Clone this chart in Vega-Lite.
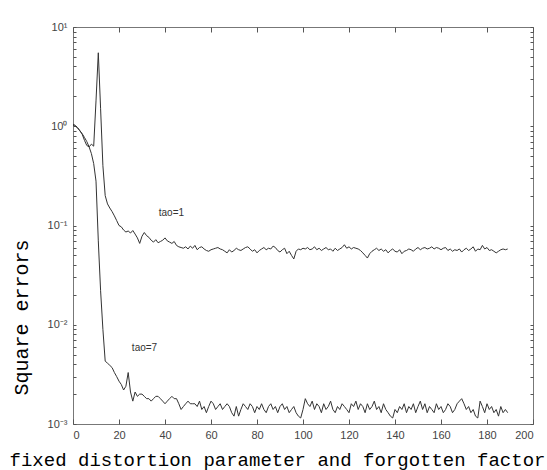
{
"$schema":"https://vega.github.io/schema/vega-lite/v6.json",
"width":460,"height":397,
"autosize":{"type":"none"},
"padding":{"left":73,"top":27,"right":14,"bottom":46},
"background":"white",
"config":{"view":{"stroke":"#777","strokeWidth":1},"axis":{"domain":false,"tickColor":"#555","labelColor":"#444","labelFont":"Liberation Sans","labelFontSize":11,"grid":false,"labelOverlap":false,"titleFont":"Liberation Mono","titleFontWeight":"normal","titleColor":"#000"}},
"resolve":{"axis":{"x":"independent","y":"independent"}},
"layer":[
{"data":{"values":[
{"x":0,"v":1.05,"s":"tao=1"},{"x":1,"v":1.02,"s":"tao=1"},{"x":2,"v":0.97,"s":"tao=1"},{"x":3,"v":0.9,"s":"tao=1"},{"x":4,"v":0.83,"s":"tao=1"},{"x":5,"v":0.72,"s":"tao=1"},{"x":6,"v":0.64,"s":"tao=1"},{"x":7,"v":0.62,"s":"tao=1"},{"x":8,"v":0.66,"s":"tao=1"},{"x":9,"v":0.63,"s":"tao=1"},
{"x":10,"v":1.8,"s":"tao=1"},{"x":11,"v":5.5,"s":"tao=1"},{"x":12,"v":1.5,"s":"tao=1"},{"x":13,"v":0.4,"s":"tao=1"},{"x":14,"v":0.2,"s":"tao=1"},{"x":15,"v":0.165,"s":"tao=1"},{"x":16,"v":0.15,"s":"tao=1"},{"x":17,"v":0.138,"s":"tao=1"},{"x":18,"v":0.125,"s":"tao=1"},{"x":19,"v":0.112,"s":"tao=1"},
{"x":20,"v":0.1,"s":"tao=1"},{"x":21,"v":0.097,"s":"tao=1"},{"x":22,"v":0.09,"s":"tao=1"},{"x":23,"v":0.086,"s":"tao=1"},{"x":24,"v":0.088,"s":"tao=1"},{"x":25,"v":0.084,"s":"tao=1"},{"x":26,"v":0.089,"s":"tao=1"},{"x":27,"v":0.082,"s":"tao=1"},{"x":28,"v":0.075,"s":"tao=1"},{"x":29,"v":0.066,"s":"tao=1"},
{"x":30,"v":0.078,"s":"tao=1"},{"x":31,"v":0.085,"s":"tao=1"},{"x":32,"v":0.079,"s":"tao=1"},{"x":33,"v":0.076,"s":"tao=1"},{"x":34,"v":0.071,"s":"tao=1"},{"x":35,"v":0.068,"s":"tao=1"},{"x":36,"v":0.072,"s":"tao=1"},{"x":37,"v":0.067,"s":"tao=1"},{"x":38,"v":0.069,"s":"tao=1"},{"x":39,"v":0.071,"s":"tao=1"},
{"x":40,"v":0.075,"s":"tao=1"},{"x":41,"v":0.07,"s":"tao=1"},{"x":42,"v":0.068,"s":"tao=1"},{"x":43,"v":0.066,"s":"tao=1"},{"x":44,"v":0.069,"s":"tao=1"},{"x":45,"v":0.063,"s":"tao=1"},{"x":46,"v":0.061,"s":"tao=1"},{"x":47,"v":0.06,"s":"tao=1"},{"x":48,"v":0.059,"s":"tao=1"},{"x":49,"v":0.061,"s":"tao=1"},
{"x":50,"v":0.058,"s":"tao=1"},{"x":51,"v":0.062,"s":"tao=1"},{"x":52,"v":0.059,"s":"tao=1"},{"x":53,"v":0.063,"s":"tao=1"},{"x":54,"v":0.057,"s":"tao=1"},{"x":55,"v":0.06,"s":"tao=1"},{"x":56,"v":0.061,"s":"tao=1"},{"x":57,"v":0.058,"s":"tao=1"},{"x":58,"v":0.056,"s":"tao=1"},{"x":59,"v":0.055,"s":"tao=1"},
{"x":60,"v":0.057,"s":"tao=1"},{"x":61,"v":0.058,"s":"tao=1"},{"x":62,"v":0.059,"s":"tao=1"},{"x":63,"v":0.06,"s":"tao=1"},{"x":64,"v":0.058,"s":"tao=1"},{"x":65,"v":0.057,"s":"tao=1"},{"x":66,"v":0.055,"s":"tao=1"},{"x":67,"v":0.053,"s":"tao=1"},{"x":68,"v":0.057,"s":"tao=1"},{"x":69,"v":0.054,"s":"tao=1"},
{"x":70,"v":0.056,"s":"tao=1"},{"x":71,"v":0.059,"s":"tao=1"},{"x":72,"v":0.057,"s":"tao=1"},{"x":73,"v":0.056,"s":"tao=1"},{"x":74,"v":0.058,"s":"tao=1"},{"x":75,"v":0.06,"s":"tao=1"},{"x":76,"v":0.061,"s":"tao=1"},{"x":77,"v":0.058,"s":"tao=1"},{"x":78,"v":0.055,"s":"tao=1"},{"x":79,"v":0.057,"s":"tao=1"},
{"x":80,"v":0.053,"s":"tao=1"},{"x":81,"v":0.056,"s":"tao=1"},{"x":82,"v":0.058,"s":"tao=1"},{"x":83,"v":0.06,"s":"tao=1"},{"x":84,"v":0.057,"s":"tao=1"},{"x":85,"v":0.059,"s":"tao=1"},{"x":86,"v":0.058,"s":"tao=1"},{"x":87,"v":0.062,"s":"tao=1"},{"x":88,"v":0.06,"s":"tao=1"},{"x":89,"v":0.056,"s":"tao=1"},
{"x":90,"v":0.054,"s":"tao=1"},{"x":91,"v":0.057,"s":"tao=1"},{"x":92,"v":0.059,"s":"tao=1"},{"x":93,"v":0.052,"s":"tao=1"},{"x":94,"v":0.055,"s":"tao=1"},{"x":95,"v":0.05,"s":"tao=1"},{"x":96,"v":0.046,"s":"tao=1"},{"x":97,"v":0.055,"s":"tao=1"},{"x":98,"v":0.058,"s":"tao=1"},{"x":99,"v":0.057,"s":"tao=1"},
{"x":100,"v":0.059,"s":"tao=1"},{"x":101,"v":0.058,"s":"tao=1"},{"x":102,"v":0.06,"s":"tao=1"},{"x":103,"v":0.057,"s":"tao=1"},{"x":104,"v":0.058,"s":"tao=1"},{"x":105,"v":0.061,"s":"tao=1"},{"x":106,"v":0.057,"s":"tao=1"},{"x":107,"v":0.059,"s":"tao=1"},{"x":108,"v":0.056,"s":"tao=1"},{"x":109,"v":0.058,"s":"tao=1"},
{"x":110,"v":0.06,"s":"tao=1"},{"x":111,"v":0.057,"s":"tao=1"},{"x":112,"v":0.058,"s":"tao=1"},{"x":113,"v":0.055,"s":"tao=1"},{"x":114,"v":0.059,"s":"tao=1"},{"x":115,"v":0.056,"s":"tao=1"},{"x":116,"v":0.058,"s":"tao=1"},{"x":117,"v":0.06,"s":"tao=1"},{"x":118,"v":0.064,"s":"tao=1"},{"x":119,"v":0.059,"s":"tao=1"},
{"x":120,"v":0.061,"s":"tao=1"},{"x":121,"v":0.058,"s":"tao=1"},{"x":122,"v":0.06,"s":"tao=1"},{"x":123,"v":0.059,"s":"tao=1"},{"x":124,"v":0.058,"s":"tao=1"},{"x":125,"v":0.056,"s":"tao=1"},{"x":126,"v":0.053,"s":"tao=1"},{"x":127,"v":0.05,"s":"tao=1"},{"x":128,"v":0.047,"s":"tao=1"},{"x":129,"v":0.052,"s":"tao=1"},
{"x":130,"v":0.055,"s":"tao=1"},{"x":131,"v":0.057,"s":"tao=1"},{"x":132,"v":0.059,"s":"tao=1"},{"x":133,"v":0.056,"s":"tao=1"},{"x":134,"v":0.058,"s":"tao=1"},{"x":135,"v":0.055,"s":"tao=1"},{"x":136,"v":0.057,"s":"tao=1"},{"x":137,"v":0.053,"s":"tao=1"},{"x":138,"v":0.056,"s":"tao=1"},{"x":139,"v":0.058,"s":"tao=1"},
{"x":140,"v":0.055,"s":"tao=1"},{"x":141,"v":0.054,"s":"tao=1"},{"x":142,"v":0.057,"s":"tao=1"},{"x":143,"v":0.052,"s":"tao=1"},{"x":144,"v":0.055,"s":"tao=1"},{"x":145,"v":0.056,"s":"tao=1"},{"x":146,"v":0.058,"s":"tao=1"},{"x":147,"v":0.057,"s":"tao=1"},{"x":148,"v":0.055,"s":"tao=1"},{"x":149,"v":0.058,"s":"tao=1"},
{"x":150,"v":0.06,"s":"tao=1"},{"x":151,"v":0.057,"s":"tao=1"},{"x":152,"v":0.059,"s":"tao=1"},{"x":153,"v":0.06,"s":"tao=1"},{"x":154,"v":0.058,"s":"tao=1"},{"x":155,"v":0.059,"s":"tao=1"},{"x":156,"v":0.061,"s":"tao=1"},{"x":157,"v":0.058,"s":"tao=1"},{"x":158,"v":0.06,"s":"tao=1"},{"x":159,"v":0.059,"s":"tao=1"},
{"x":160,"v":0.057,"s":"tao=1"},{"x":161,"v":0.059,"s":"tao=1"},{"x":162,"v":0.06,"s":"tao=1"},{"x":163,"v":0.056,"s":"tao=1"},{"x":164,"v":0.058,"s":"tao=1"},{"x":165,"v":0.055,"s":"tao=1"},{"x":166,"v":0.057,"s":"tao=1"},{"x":167,"v":0.056,"s":"tao=1"},{"x":168,"v":0.058,"s":"tao=1"},{"x":169,"v":0.054,"s":"tao=1"},
{"x":170,"v":0.057,"s":"tao=1"},{"x":171,"v":0.059,"s":"tao=1"},{"x":172,"v":0.056,"s":"tao=1"},{"x":173,"v":0.058,"s":"tao=1"},{"x":174,"v":0.061,"s":"tao=1"},{"x":175,"v":0.055,"s":"tao=1"},{"x":176,"v":0.058,"s":"tao=1"},{"x":177,"v":0.057,"s":"tao=1"},{"x":178,"v":0.063,"s":"tao=1"},{"x":179,"v":0.058,"s":"tao=1"},
{"x":180,"v":0.06,"s":"tao=1"},{"x":181,"v":0.056,"s":"tao=1"},{"x":182,"v":0.057,"s":"tao=1"},{"x":183,"v":0.055,"s":"tao=1"},{"x":184,"v":0.053,"s":"tao=1"},{"x":185,"v":0.055,"s":"tao=1"},{"x":186,"v":0.057,"s":"tao=1"},{"x":187,"v":0.058,"s":"tao=1"},{"x":188,"v":0.057,"s":"tao=1"},{"x":189,"v":0.058,"s":"tao=1"},
{"x":0,"v":1.02,"s":"tao=7"},{"x":1,"v":1.0,"s":"tao=7"},{"x":2,"v":0.96,"s":"tao=7"},{"x":3,"v":0.9,"s":"tao=7"},{"x":4,"v":0.84,"s":"tao=7"},{"x":5,"v":0.77,"s":"tao=7"},{"x":6,"v":0.7,"s":"tao=7"},{"x":7,"v":0.62,"s":"tao=7"},{"x":8,"v":0.53,"s":"tao=7"},{"x":9,"v":0.42,"s":"tao=7"},
{"x":10,"v":0.28,"s":"tao=7"},{"x":11,"v":0.07,"s":"tao=7"},{"x":12,"v":0.022,"s":"tao=7"},{"x":13,"v":0.009,"s":"tao=7"},{"x":14,"v":0.0043,"s":"tao=7"},{"x":15,"v":0.0041,"s":"tao=7"},{"x":16,"v":0.0039,"s":"tao=7"},{"x":17,"v":0.0037,"s":"tao=7"},{"x":18,"v":0.0033,"s":"tao=7"},{"x":19,"v":0.003,"s":"tao=7"},
{"x":20,"v":0.0027,"s":"tao=7"},{"x":21,"v":0.0025,"s":"tao=7"},{"x":22,"v":0.0022,"s":"tao=7"},{"x":23,"v":0.0024,"s":"tao=7"},{"x":24,"v":0.0033,"s":"tao=7"},{"x":25,"v":0.0021,"s":"tao=7"},{"x":26,"v":0.0017,"s":"tao=7"},{"x":27,"v":0.0021,"s":"tao=7"},{"x":28,"v":0.0019,"s":"tao=7"},{"x":29,"v":0.002,"s":"tao=7"},
{"x":30,"v":0.002,"s":"tao=7"},{"x":31,"v":0.0019,"s":"tao=7"},{"x":32,"v":0.0018,"s":"tao=7"},{"x":33,"v":0.0018,"s":"tao=7"},{"x":34,"v":0.0017,"s":"tao=7"},{"x":35,"v":0.0018,"s":"tao=7"},{"x":36,"v":0.0019,"s":"tao=7"},{"x":37,"v":0.0019,"s":"tao=7"},{"x":38,"v":0.0018,"s":"tao=7"},{"x":39,"v":0.0017,"s":"tao=7"},
{"x":40,"v":0.0016,"s":"tao=7"},{"x":41,"v":0.0017,"s":"tao=7"},{"x":42,"v":0.0018,"s":"tao=7"},{"x":43,"v":0.0019,"s":"tao=7"},{"x":44,"v":0.0018,"s":"tao=7"},{"x":45,"v":0.0018,"s":"tao=7"},{"x":46,"v":0.0016,"s":"tao=7"},{"x":47,"v":0.0014,"s":"tao=7"},{"x":48,"v":0.0015,"s":"tao=7"},{"x":49,"v":0.0016,"s":"tao=7"},
{"x":50,"v":0.0017,"s":"tao=7"},{"x":51,"v":0.0016,"s":"tao=7"},{"x":52,"v":0.0016,"s":"tao=7"},{"x":53,"v":0.0016,"s":"tao=7"},{"x":54,"v":0.0015,"s":"tao=7"},{"x":55,"v":0.0017,"s":"tao=7"},{"x":56,"v":0.0014,"s":"tao=7"},{"x":57,"v":0.0015,"s":"tao=7"},{"x":58,"v":0.0013,"s":"tao=7"},{"x":59,"v":0.0015,"s":"tao=7"},
{"x":60,"v":0.0017,"s":"tao=7"},{"x":61,"v":0.0016,"s":"tao=7"},{"x":62,"v":0.0014,"s":"tao=7"},{"x":63,"v":0.0015,"s":"tao=7"},{"x":64,"v":0.0016,"s":"tao=7"},{"x":65,"v":0.0014,"s":"tao=7"},{"x":66,"v":0.0015,"s":"tao=7"},{"x":67,"v":0.0016,"s":"tao=7"},{"x":68,"v":0.0015,"s":"tao=7"},{"x":69,"v":0.0013,"s":"tao=7"},
{"x":70,"v":0.0012,"s":"tao=7"},{"x":71,"v":0.0015,"s":"tao=7"},{"x":72,"v":0.0012,"s":"tao=7"},{"x":73,"v":0.0014,"s":"tao=7"},{"x":74,"v":0.0016,"s":"tao=7"},{"x":75,"v":0.0015,"s":"tao=7"},{"x":76,"v":0.0014,"s":"tao=7"},{"x":77,"v":0.0016,"s":"tao=7"},{"x":78,"v":0.0015,"s":"tao=7"},{"x":79,"v":0.0013,"s":"tao=7"},
{"x":80,"v":0.0015,"s":"tao=7"},{"x":81,"v":0.0014,"s":"tao=7"},{"x":82,"v":0.0016,"s":"tao=7"},{"x":83,"v":0.0014,"s":"tao=7"},{"x":84,"v":0.0013,"s":"tao=7"},{"x":85,"v":0.0015,"s":"tao=7"},{"x":86,"v":0.0016,"s":"tao=7"},{"x":87,"v":0.0014,"s":"tao=7"},{"x":88,"v":0.0015,"s":"tao=7"},{"x":89,"v":0.0013,"s":"tao=7"},
{"x":90,"v":0.0015,"s":"tao=7"},{"x":91,"v":0.0016,"s":"tao=7"},{"x":92,"v":0.0014,"s":"tao=7"},{"x":93,"v":0.0015,"s":"tao=7"},{"x":94,"v":0.0013,"s":"tao=7"},{"x":95,"v":0.0014,"s":"tao=7"},{"x":96,"v":0.0015,"s":"tao=7"},{"x":97,"v":0.0013,"s":"tao=7"},{"x":98,"v":0.0012,"s":"tao=7"},{"x":99,"v":0.00115,"s":"tao=7"},
{"x":100,"v":0.0014,"s":"tao=7"},{"x":101,"v":0.0018,"s":"tao=7"},{"x":102,"v":0.0016,"s":"tao=7"},{"x":103,"v":0.0015,"s":"tao=7"},{"x":104,"v":0.0017,"s":"tao=7"},{"x":105,"v":0.0014,"s":"tao=7"},{"x":106,"v":0.0016,"s":"tao=7"},{"x":107,"v":0.0015,"s":"tao=7"},{"x":108,"v":0.0013,"s":"tao=7"},{"x":109,"v":0.0016,"s":"tao=7"},
{"x":110,"v":0.0014,"s":"tao=7"},{"x":111,"v":0.0015,"s":"tao=7"},{"x":112,"v":0.0017,"s":"tao=7"},{"x":113,"v":0.0014,"s":"tao=7"},{"x":114,"v":0.0013,"s":"tao=7"},{"x":115,"v":0.0015,"s":"tao=7"},{"x":116,"v":0.0014,"s":"tao=7"},{"x":117,"v":0.0016,"s":"tao=7"},{"x":118,"v":0.0015,"s":"tao=7"},{"x":119,"v":0.0014,"s":"tao=7"},
{"x":120,"v":0.0013,"s":"tao=7"},{"x":121,"v":0.0016,"s":"tao=7"},{"x":122,"v":0.0015,"s":"tao=7"},{"x":123,"v":0.0017,"s":"tao=7"},{"x":124,"v":0.0014,"s":"tao=7"},{"x":125,"v":0.0016,"s":"tao=7"},{"x":126,"v":0.0015,"s":"tao=7"},{"x":127,"v":0.0013,"s":"tao=7"},{"x":128,"v":0.0016,"s":"tao=7"},{"x":129,"v":0.0014,"s":"tao=7"},
{"x":130,"v":0.0015,"s":"tao=7"},{"x":131,"v":0.0017,"s":"tao=7"},{"x":132,"v":0.0014,"s":"tao=7"},{"x":133,"v":0.0015,"s":"tao=7"},{"x":134,"v":0.0013,"s":"tao=7"},{"x":135,"v":0.0016,"s":"tao=7"},{"x":136,"v":0.0014,"s":"tao=7"},{"x":137,"v":0.0013,"s":"tao=7"},{"x":138,"v":0.0012,"s":"tao=7"},{"x":139,"v":0.00115,"s":"tao=7"},
{"x":140,"v":0.0014,"s":"tao=7"},{"x":141,"v":0.0013,"s":"tao=7"},{"x":142,"v":0.0015,"s":"tao=7"},{"x":143,"v":0.0014,"s":"tao=7"},{"x":144,"v":0.0016,"s":"tao=7"},{"x":145,"v":0.0013,"s":"tao=7"},{"x":146,"v":0.0015,"s":"tao=7"},{"x":147,"v":0.0014,"s":"tao=7"},{"x":148,"v":0.0016,"s":"tao=7"},{"x":149,"v":0.0013,"s":"tao=7"},
{"x":150,"v":0.0015,"s":"tao=7"},{"x":151,"v":0.0017,"s":"tao=7"},{"x":152,"v":0.0014,"s":"tao=7"},{"x":153,"v":0.0016,"s":"tao=7"},{"x":154,"v":0.0013,"s":"tao=7"},{"x":155,"v":0.0015,"s":"tao=7"},{"x":156,"v":0.0014,"s":"tao=7"},{"x":157,"v":0.0013,"s":"tao=7"},{"x":158,"v":0.0016,"s":"tao=7"},{"x":159,"v":0.0014,"s":"tao=7"},
{"x":160,"v":0.0015,"s":"tao=7"},{"x":161,"v":0.0013,"s":"tao=7"},{"x":162,"v":0.0014,"s":"tao=7"},{"x":163,"v":0.0016,"s":"tao=7"},{"x":164,"v":0.0015,"s":"tao=7"},{"x":165,"v":0.0013,"s":"tao=7"},{"x":166,"v":0.0014,"s":"tao=7"},{"x":167,"v":0.0016,"s":"tao=7"},{"x":168,"v":0.0017,"s":"tao=7"},{"x":169,"v":0.0018,"s":"tao=7"},
{"x":170,"v":0.0016,"s":"tao=7"},{"x":171,"v":0.0014,"s":"tao=7"},{"x":172,"v":0.0015,"s":"tao=7"},{"x":173,"v":0.0013,"s":"tao=7"},{"x":174,"v":0.0014,"s":"tao=7"},{"x":175,"v":0.0012,"s":"tao=7"},{"x":176,"v":0.00115,"s":"tao=7"},{"x":177,"v":0.0017,"s":"tao=7"},{"x":178,"v":0.0015,"s":"tao=7"},{"x":179,"v":0.0013,"s":"tao=7"},
{"x":180,"v":0.0016,"s":"tao=7"},{"x":181,"v":0.0014,"s":"tao=7"},{"x":182,"v":0.0015,"s":"tao=7"},{"x":183,"v":0.0013,"s":"tao=7"},{"x":184,"v":0.0014,"s":"tao=7"},{"x":185,"v":0.0012,"s":"tao=7"},{"x":186,"v":0.0015,"s":"tao=7"},{"x":187,"v":0.0013,"s":"tao=7"},{"x":188,"v":0.0014,"s":"tao=7"},{"x":189,"v":0.0013,"s":"tao=7"}
]},
"mark":{"type":"line","color":"#333","strokeWidth":1,"clip":true},
"encoding":{
"x":{"field":"x","type":"quantitative","scale":{"domain":[0,200],"nice":false,"zero":false},
"axis":{"orient":"bottom","offset":-5,"values":[0,20,40,60,80,100,120,140,160,180,200],"tickSize":5,"labelPadding":5,"title":"fixed distortion parameter and forgotten factor","titleFontSize":19,"titleX":204,"titleY":46,"titleBaseline":"alphabetic","titleAnchor":"middle"}},
"y":{"field":"v","type":"quantitative","scale":{"type":"log","domain":[0.001,10],"nice":false},
"axis":{"orient":"left","offset":-3,"values":[0.001,0.002,0.003,0.004,0.005,0.006,0.007,0.008,0.009,0.01,0.02,0.03,0.04,0.05,0.06,0.07,0.08,0.09,0.1,0.2,0.3,0.4,0.5,0.6,0.7,0.8,0.9,1,2,3,4,5,6,7,8,9,10],
"labelExpr":"datum.value==10?'10¹':datum.value==1?'10⁰':datum.value==0.1?'10⁻¹':datum.value==0.01?'10⁻²':datum.value==0.001?'10⁻³':''",
"tickSize":3,"labelPadding":6,"title":"Square errors","titleFontSize":20,"titleAngle":270,"titleX":-49,"titleY":290,"titleAlign":"center","titleBaseline":"alphabetic"}},
"detail":{"field":"s","type":"nominal"}}},
{"data":{"values":[{"x":42.8,"v":0.134,"label":"tao=1"},{"x":31.1,"v":0.00583,"label":"tao=7"}]},
"mark":{"type":"text","font":"Liberation Sans","fontSize":10,"color":"#333"},
"encoding":{
"x":{"field":"x","type":"quantitative","scale":{"domain":[0,200],"nice":false,"zero":false},
"axis":{"orient":"top","offset":-5,"values":[0,20,40,60,80,100,120,140,160,180,200],"tickSize":5,"labels":false,"title":null}},
"y":{"field":"v","type":"quantitative","scale":{"type":"log","domain":[0.001,10],"nice":false},
"axis":{"orient":"right","offset":-3,"values":[0.001,0.002,0.003,0.004,0.005,0.006,0.007,0.008,0.009,0.01,0.02,0.03,0.04,0.05,0.06,0.07,0.08,0.09,0.1,0.2,0.3,0.4,0.5,0.6,0.7,0.8,0.9,1,2,3,4,5,6,7,8,9,10],"tickSize":3,"labels":false,"title":null}},
"text":{"field":"label","type":"nominal"}}}
]
}
